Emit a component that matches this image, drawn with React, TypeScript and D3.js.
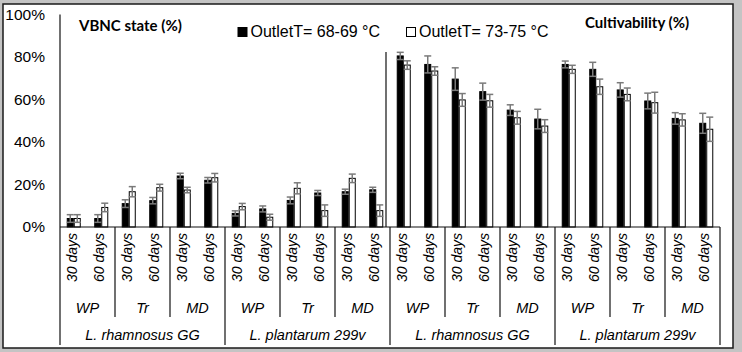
import React, { useEffect, useRef } from "react";
import * as d3 from "d3";

const blocks = ["L. rhamnosus GG", "L. plantarum 299v", "L. rhamnosus GG", "L. plantarum 299v"];
const treatments = ["WP", "Tr", "MD"];
const durations = ["30 days", "60 days"];
const yTicks = [0, 20, 40, 60, 80, 100];
const seriesNames = ["OutletT= 68-69 °C", "OutletT= 73-75 °C"];

// VBNC state (first 12) then cultivability (last 12)
const lowT = [4, 4, 11, 12.4, 24, 22, 6.4, 8.5, 12.5, 16, 16.6, 17.5, 80.5, 76.5, 69.6, 63.7, 55, 50.8, 76.5, 74.2, 64.5, 59.3, 51.1, 48.8];
const lowErr = [1.8, 1.8, 1.8, 1.5, 1.3, 1.3, 1.2, 1.4, 1.6, 1.2, 1.2, 1.2, 1.7, 4, 5.3, 4, 2.5, 4.6, 1.6, 3.3, 3.4, 3.7, 2.7, 4.7];
const highT = [4, 9.2, 16.6, 18.5, 17.4, 23.2, 9.6, 4.6, 18.2, 7.7, 22.9, 7.7, 76.2, 73.4, 59.8, 59.4, 51.4, 47.5, 74.2, 66, 62.4, 58.5, 50.4, 46];
const highErr = [1.8, 2, 2.4, 1.6, 1.3, 2, 1.5, 1.4, 2.6, 2.7, 2, 2.7, 2, 2, 3, 3, 3, 3, 1.9, 3.6, 3, 4.9, 2.9, 5.7];

const App: React.FC = () => {
  const ref = useRef<SVGSVGElement>(null);

  useEffect(() => {
    if (!ref.current) return;
    const svg = d3.select(ref.current);
    svg.selectAll("*").remove();

    const W = 742;
    const H = 352;
    const left = 60;
    const right = 720;
    const base = 227;
    const top = 14.5;

    // frame
    svg.append("rect").attr("width", W).attr("height", H).attr("fill", "#c4c4c4");
    svg.append("rect")
      .attr("x", 3).attr("y", 4).attr("width", 730).attr("height", 344)
      .attr("fill", "#fff").attr("stroke", "#1a1a1a").attr("stroke-width", 1.5);

    const cats = d3.range(24).map(String);
    const x = d3.scaleBand().domain(cats).range([left, right]).paddingInner(0.49).paddingOuter(0.245);
    const step = x.step();
    const y = d3.scaleLinear().domain([0, 100]).range([base, top]);

    const font = "'Liberation Sans', Arial, sans-serif";

    // y tick labels
    svg.append("g").selectAll("text").data(yTicks).enter().append("text")
      .attr("x", 45).attr("y", (d) => y(d))
      .attr("dy", "0.35em")
      .attr("text-anchor", "end")
      .style("font-family", font).style("font-size", "15.5px")
      .text((d) => `${d}%`);

    const data = cats.map((c, i) => ({
      c,
      vals: [
        { v: lowT[i], e: lowErr[i], s: 0 },
        { v: highT[i], e: highErr[i], s: 1 },
      ],
    }));

    const bw = x.bandwidth() / 2;
    const g = svg.append("g");
    const grp = g.selectAll("g.cat").data(data).enter().append("g")
      .attr("transform", (d) => `translate(${x(d.c)},0)`);
    grp.selectAll("rect").data((d) => d.vals).enter().append("rect")
      .attr("x", (d) => d.s * bw + 0.5)
      .attr("y", (d) => y(d.v))
      .attr("width", bw - 1)
      .attr("height", (d) => base - y(d.v))
      .attr("fill", (d) => (d.s === 0 ? "#000" : "#fff"))
      .attr("stroke", "#000").attr("stroke-width", 1);

    // error bars
    const eb = grp.selectAll("g.err").data((d) => d.vals).enter().append("g")
      .attr("stroke", "#7a7a7a").attr("stroke-width", 1.5);
    eb.append("line")
      .attr("x1", (d) => d.s * bw + bw / 2).attr("x2", (d) => d.s * bw + bw / 2)
      .attr("y1", (d) => y(d.v - d.e)).attr("y2", (d) => y(d.v + d.e));
    [1, -1].forEach((sg) => {
      eb.append("line")
        .attr("x1", (d) => d.s * bw + bw / 2 - 3.5).attr("x2", (d) => d.s * bw + bw / 2 + 3.5)
        .attr("y1", (d) => y(d.v + sg * d.e)).attr("y2", (d) => y(d.v + sg * d.e));
    });

    const ax = svg.append("g").attr("stroke", "#111").attr("stroke-width", 1.2);
    // axes
    ax.append("line").attr("x1", left).attr("x2", left).attr("y1", top).attr("y2", 345);
    ax.append("line").attr("x1", left).attr("x2", right).attr("y1", base).attr("y2", base);
    // group separators
    for (let k = 1; k <= 12; k++) {
      const xx = left + k * 2 * step;
      const bottom = k % 3 === 0 ? 345 : 317;
      ax.append("line").attr("x1", xx).attr("x2", xx).attr("y1", base).attr("y2", bottom);
    }
    // divider between VBNC and cultivability
    ax.append("line").attr("x1", left + 12 * step - 4).attr("x2", left + 12 * step - 4)
      .attr("y1", 52).attr("y2", base);

    // duration labels
    svg.append("g").selectAll("text").data(cats).enter().append("text")
      .attr("transform", (d) => `translate(${(x(d) || 0) + x.bandwidth() / 2 - 2},257.5) rotate(-90)`)
      .attr("dy", "0.35em")
      .attr("text-anchor", "middle")
      .style("font-family", font).style("font-size", "14px").style("font-style", "italic")
      .text((d, i) => durations[i % 2]);

    // treatment labels
    svg.append("g").selectAll("text").data(d3.range(12)).enter().append("text")
      .attr("x", (i) => left + (i * 2 + 1) * step)
      .attr("y", 308).attr("dy", "0.35em")
      .attr("text-anchor", "middle")
      .style("font-family", font).style("font-size", "14.5px").style("font-style", "italic")
      .text((i) => treatments[i % 3]);

    // strain labels
    svg.append("g").selectAll("text").data(blocks).enter().append("text")
      .attr("x", (d, i) => left + (i * 6 + 3) * step)
      .attr("y", 335).attr("dy", "0.35em")
      .attr("text-anchor", "middle")
      .style("font-family", font).style("font-size", "14.5px").style("font-style", "italic")
      .text((d) => d);

    // titles
    svg.append("text").attr("x", 79).attr("y", 31)
      .style("font-family", "Lato, sans-serif").style("font-weight", "bold").style("font-size", "15px")
      .text("VBNC state (%)");
    svg.append("text").attr("x", 585).attr("y", 28)
      .style("font-family", "Lato, sans-serif").style("font-weight", "bold").style("font-size", "15px")
      .text("Cultivability (%)");

    // legend
    const lg = svg.append("g");
    const lx = [238, 406.5];
    seriesNames.forEach((name, i) => {
      lg.append("rect").attr("x", lx[i]).attr("y", 27.5).attr("width", 9).attr("height", 9)
        .attr("fill", i === 0 ? "#000" : "#fff").attr("stroke", "#000").attr("stroke-width", 1);
      lg.append("text").attr("x", lx[i] + 12.5).attr("y", 36.5)
        .style("font-family", font).style("font-size", "16px")
        .text(name);
    });
  }, []);

  return (
    <svg ref={ref} width={742} height={352} style={{ position: "absolute", left: 0, top: 0 }} />
  );
};

export default App;
